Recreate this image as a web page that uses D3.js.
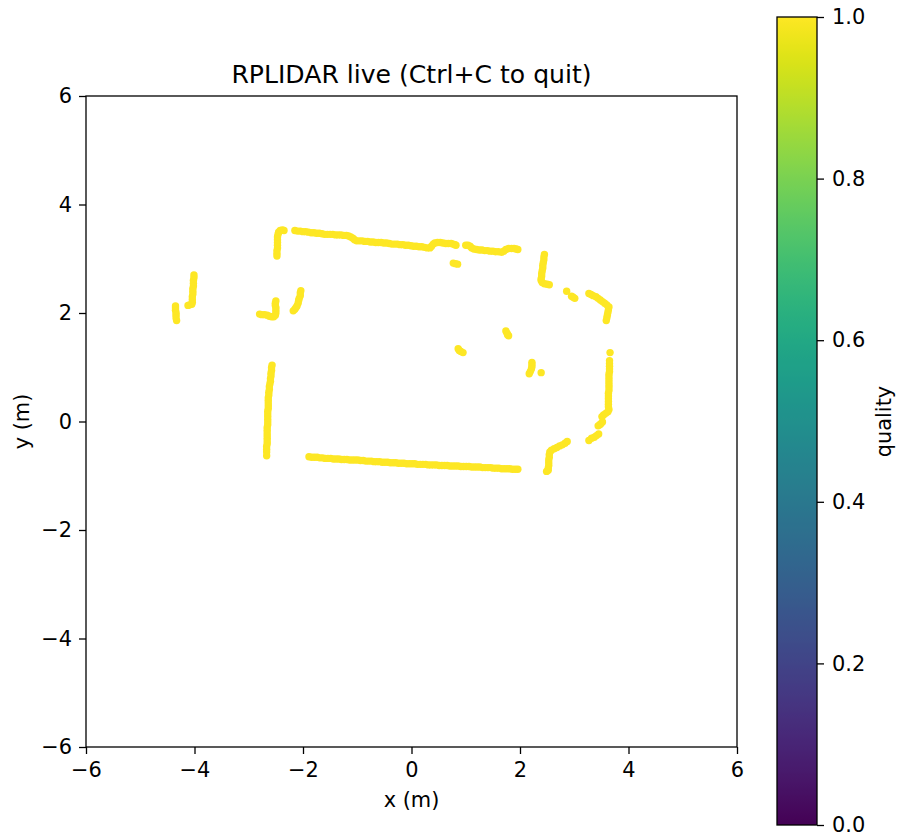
<!DOCTYPE html>
<html lang="en">
<head>
    <meta charset="UTF-8">
    <title>RPLIDAR live</title>
    <script src="https://d3js.org/d3.v7.min.js"></script>
    <style>
        body { margin: 0; background: #fff; }
        svg { display: block; }
        text { font-family: "DejaVu Sans", sans-serif; fill: #000; }
    </style>
</head>
<body>
    <div id="chart"></div>
    <script>
        // Tick labels
        const xTicks = [-6, -4, -2, 0, 2, 4, 6];
        const yTicks = [-6, -4, -2, 0, 2, 4, 6];
        const qualityTicks = [0, 0.2, 0.4, 0.6, 0.8, 1];

        // Lidar returns, [x, y] in metres, one list per wall piece
        const farLeftLow = [[-4.35, 2.13], [-4.35, 2.09], [-4.35, 2.05], [-4.34, 2.00], [-4.34, 1.96], [-4.34, 1.91], [-4.33, 1.86]];
        const farLeftHigh = [[-4.01, 2.70], [-4.01, 2.65], [-4.02, 2.60], [-4.02, 2.55], [-4.02, 2.50], [-4.03, 2.45], [-4.03, 2.40], [-4.03, 2.35], [-4.04, 2.30], [-4.04, 2.25], [-4.04, 2.20], [-4.05, 2.16], [-4.09, 2.15], [-4.12, 2.14]];
        const doorLeft = [[-2.80, 1.98], [-2.76, 1.97], [-2.71, 1.97], [-2.66, 1.96], [-2.62, 1.94], [-2.58, 1.93], [-2.54, 1.93], [-2.51, 1.96], [-2.50, 2.00], [-2.50, 2.05], [-2.50, 2.10], [-2.51, 2.14], [-2.51, 2.18], [-2.50, 2.22]];
        const doorRight = [[-2.18, 2.04], [-2.15, 2.07], [-2.13, 2.10], [-2.11, 2.13], [-2.09, 2.18], [-2.08, 2.23], [-2.07, 2.27], [-2.05, 2.32], [-2.05, 2.37], [-2.04, 2.41]];
        const cornerTopLeft = [[-2.48, 3.05], [-2.48, 3.10], [-2.48, 3.15], [-2.47, 3.20], [-2.47, 3.25], [-2.47, 3.30], [-2.47, 3.35], [-2.47, 3.40], [-2.46, 3.45], [-2.45, 3.49], [-2.42, 3.52], [-2.38, 3.53], [-2.35, 3.52]];
        const topWallA = [[-2.15, 3.52], [-2.10, 3.51], [-2.05, 3.51], [-2.00, 3.50], [-1.95, 3.50], [-1.90, 3.49], [-1.85, 3.48], [-1.80, 3.48], [-1.75, 3.47], [-1.70, 3.47], [-1.65, 3.46], [-1.60, 3.45], [-1.55, 3.45], [-1.50, 3.45], [-1.45, 3.45], [-1.40, 3.44], [-1.35, 3.44], [-1.30, 3.44], [-1.25, 3.43], [-1.20, 3.43], [-1.16, 3.42], [-1.12, 3.40], [-1.08, 3.38], [-1.05, 3.35], [-1.01, 3.33], [-0.96, 3.33], [-0.91, 3.33], [-0.86, 3.32], [-0.81, 3.32], [-0.76, 3.31], [-0.71, 3.31], [-0.66, 3.30], [-0.61, 3.30], [-0.56, 3.30], [-0.51, 3.29], [-0.46, 3.29], [-0.41, 3.28], [-0.36, 3.27], [-0.31, 3.27], [-0.26, 3.27], [-0.21, 3.26], [-0.16, 3.26], [-0.11, 3.25], [-0.06, 3.25], [-0.01, 3.24], [0.04, 3.23], [0.09, 3.23], [0.14, 3.22], [0.19, 3.22], [0.24, 3.21], [0.29, 3.20], [0.34, 3.20], [0.37, 3.23], [0.40, 3.27], [0.43, 3.29], [0.48, 3.30], [0.53, 3.30], [0.58, 3.29], [0.63, 3.28], [0.68, 3.28], [0.73, 3.28], [0.77, 3.27], [0.80, 3.26], [0.82, 3.25]];
        const topWallB = [[1.00, 3.25], [1.04, 3.25], [1.08, 3.23], [1.11, 3.20], [1.15, 3.18], [1.20, 3.17], [1.25, 3.16], [1.30, 3.16], [1.35, 3.15], [1.40, 3.15], [1.45, 3.14], [1.50, 3.14], [1.55, 3.13], [1.60, 3.13], [1.66, 3.12], [1.70, 3.14], [1.74, 3.17], [1.79, 3.19], [1.84, 3.19], [1.89, 3.19], [1.93, 3.18], [1.96, 3.17]];
        const topInner = [[0.77, 2.92], [0.81, 2.91], [0.85, 2.90]];
        const rightUpper = [[2.45, 3.08], [2.44, 3.03], [2.44, 2.98], [2.43, 2.93], [2.42, 2.88], [2.42, 2.83], [2.41, 2.78], [2.40, 2.73], [2.40, 2.68], [2.39, 2.63], [2.39, 2.60], [2.41, 2.56], [2.45, 2.54], [2.50, 2.53], [2.54, 2.52]];
        const rightDots = [[2.86, 2.40], [2.95, 2.31], [2.98, 2.29], [3.01, 2.27]];
        const cornerTopRight = [[3.27, 2.36], [3.31, 2.34], [3.35, 2.32], [3.40, 2.30], [3.44, 2.27], [3.48, 2.24], [3.52, 2.21], [3.56, 2.18], [3.60, 2.15], [3.64, 2.11], [3.63, 2.06], [3.62, 2.01], [3.61, 1.96], [3.60, 1.91], [3.59, 1.86]];
        const rightDot = [[3.66, 1.27]];
        const rightWall = [[3.65, 1.12], [3.65, 1.07], [3.65, 1.02], [3.65, 0.97], [3.65, 0.92], [3.64, 0.87], [3.64, 0.82], [3.64, 0.77], [3.64, 0.72], [3.64, 0.67], [3.64, 0.62], [3.64, 0.57], [3.63, 0.52], [3.63, 0.47], [3.63, 0.42], [3.63, 0.37], [3.63, 0.32], [3.63, 0.27], [3.64, 0.22], [3.62, 0.18], [3.58, 0.15], [3.54, 0.12], [3.51, 0.09]];
        const cornerLowA = [[3.52, -0.01], [3.49, -0.04], [3.47, -0.06], [3.44, -0.08]];
        const cornerLowB = [[3.45, -0.23], [3.41, -0.26], [3.37, -0.29], [3.32, -0.31], [3.27, -0.35]];
        const cornerLowC = [[2.87, -0.37], [2.83, -0.40], [2.78, -0.43], [2.73, -0.45], [2.68, -0.48], [2.63, -0.50], [2.58, -0.53], [2.55, -0.56], [2.54, -0.61], [2.54, -0.66], [2.53, -0.71], [2.53, -0.76], [2.53, -0.81], [2.52, -0.86], [2.52, -0.90], [2.49, -0.92]];
        const bottomWall = [[-1.89, -0.65], [-1.84, -0.66], [-1.79, -0.66], [-1.74, -0.66], [-1.69, -0.67], [-1.64, -0.67], [-1.59, -0.68], [-1.54, -0.68], [-1.49, -0.68], [-1.44, -0.69], [-1.39, -0.69], [-1.34, -0.69], [-1.29, -0.70], [-1.24, -0.70], [-1.19, -0.70], [-1.14, -0.71], [-1.09, -0.71], [-1.04, -0.71], [-0.99, -0.71], [-0.94, -0.72], [-0.89, -0.72], [-0.84, -0.73], [-0.79, -0.73], [-0.74, -0.73], [-0.69, -0.74], [-0.64, -0.74], [-0.59, -0.74], [-0.54, -0.75], [-0.49, -0.75], [-0.44, -0.75], [-0.39, -0.76], [-0.34, -0.76], [-0.29, -0.76], [-0.24, -0.77], [-0.19, -0.77], [-0.14, -0.77], [-0.09, -0.78], [-0.04, -0.78], [0.01, -0.78], [0.06, -0.78], [0.11, -0.79], [0.16, -0.79], [0.21, -0.79], [0.26, -0.79], [0.31, -0.80], [0.36, -0.80], [0.41, -0.80], [0.46, -0.80], [0.51, -0.81], [0.56, -0.81], [0.61, -0.81], [0.66, -0.81], [0.71, -0.82], [0.76, -0.82], [0.81, -0.82], [0.86, -0.82], [0.91, -0.83], [0.96, -0.83], [1.01, -0.83], [1.06, -0.83], [1.11, -0.84], [1.16, -0.84], [1.21, -0.84], [1.26, -0.84], [1.31, -0.85], [1.36, -0.85], [1.41, -0.85], [1.46, -0.85], [1.51, -0.86], [1.56, -0.86], [1.61, -0.86], [1.66, -0.87], [1.71, -0.87], [1.76, -0.87], [1.81, -0.87], [1.86, -0.88], [1.91, -0.88], [1.96, -0.88]];
        const leftWall = [[-2.57, 1.04], [-2.58, 0.99], [-2.58, 0.94], [-2.59, 0.89], [-2.59, 0.84], [-2.60, 0.79], [-2.60, 0.74], [-2.61, 0.69], [-2.62, 0.64], [-2.62, 0.59], [-2.63, 0.54], [-2.63, 0.49], [-2.64, 0.44], [-2.64, 0.39], [-2.64, 0.34], [-2.64, 0.29], [-2.64, 0.24], [-2.65, 0.19], [-2.65, 0.14], [-2.65, 0.09], [-2.65, 0.04], [-2.65, -0.01], [-2.65, -0.06], [-2.66, -0.11], [-2.66, -0.16], [-2.66, -0.21], [-2.66, -0.26], [-2.66, -0.31], [-2.66, -0.36], [-2.66, -0.41], [-2.67, -0.46], [-2.67, -0.51], [-2.67, -0.56], [-2.67, -0.63]];
        const innerA = [[0.86, 1.34], [0.88, 1.31], [0.91, 1.29], [0.95, 1.27]];
        const innerB = [[1.74, 1.67], [1.76, 1.63], [1.77, 1.60], [1.79, 1.58]];
        const innerC = [[2.22, 1.09], [2.22, 1.05], [2.22, 1.01], [2.21, 0.97], [2.19, 0.92], [2.17, 0.88]];
        const innerDot = [[2.39, 0.90]];

        const points = [].concat(
            farLeftLow, farLeftHigh, doorLeft, doorRight, cornerTopLeft, topWallA, topWallB,
            topInner, rightUpper, rightDots, cornerTopRight, rightDot, rightWall,
            cornerLowA, cornerLowB, cornerLowC, bottomWall, leftWall,
            innerA, innerB, innerC, innerDot
        );
        const quality = points.map(() => 1);

        const svg = d3.select('#chart')
            .append('svg')
            .attr('width', 897)
            .attr('height', 838);

        const xScale = d3.scaleLinear().domain([-6, 6]).range([86, 737]);
        const yScale = d3.scaleLinear().domain([-6, 6]).range([747, 96]);
        const colorScale = d3.scaleSequential(d3.interpolateViridis).domain([0, 1]);

        // Scatter
        svg.append('g')
            .selectAll('circle')
            .data(points)
            .enter()
            .append('circle')
            .attr('cx', d => xScale(d[0]))
            .attr('cy', d => yScale(d[1]))
            .attr('r', 3.7)
            .attr('fill', (d, i) => colorScale(quality[i]));

        // Axes, matplotlib look
        function styleAxis(g) {
            g.selectAll('.domain').remove();
            g.selectAll('line').attr('stroke', '#000').attr('stroke-width', 1.3);
            g.selectAll('text').attr('font-size', 20.9).attr('font-family', '"DejaVu Sans"');
        }

        svg.append('g')
            .attr('transform', 'translate(0,747)')
            .call(d3.axisBottom(xScale).tickValues(xTicks).tickSize(7).tickPadding(8).tickFormat(d3.format('d')))
            .call(styleAxis);

        svg.append('g')
            .attr('transform', 'translate(86,0)')
            .call(d3.axisLeft(yScale).tickValues(yTicks).tickSize(7).tickPadding(7).tickFormat(d3.format('d')))
            .call(styleAxis);

        svg.append('rect')
            .attr('x', 86).attr('y', 96)
            .attr('width', 651).attr('height', 651)
            .attr('fill', 'none').attr('stroke', '#000').attr('stroke-width', 1.3);

        svg.append('text')
            .attr('x', 411.5).attr('y', 83)
            .attr('text-anchor', 'middle')
            .attr('font-size', 25.1)
            .text('RPLIDAR live (Ctrl+C to quit)');

        svg.append('text')
            .attr('x', 411.5).attr('y', 807)
            .attr('text-anchor', 'middle')
            .attr('font-size', 20.9)
            .text('x (m)');

        svg.append('text')
            .attr('transform', 'translate(29,421.5) rotate(-90)')
            .attr('text-anchor', 'middle')
            .attr('font-size', 20.9)
            .text('y (m)');

        // Colorbar, gradient stops come from the same colour scale as the dots
        const barScale = d3.scaleLinear().domain([0, 1]).range([825, 17]);
        const barStops = d3.range(0, 256).map(i => i / 255);

        const gradient = svg.append('defs')
            .append('linearGradient')
            .attr('id', 'viridis-bar')
            .attr('x1', 0).attr('y1', 1)
            .attr('x2', 0).attr('y2', 0);

        gradient.selectAll('stop')
            .data(barStops)
            .enter()
            .append('stop')
            .attr('offset', d => d)
            .attr('stop-color', d => colorScale(d));

        svg.append('rect')
            .attr('x', 777).attr('y', barScale(1))
            .attr('width', 40).attr('height', barScale(0) - barScale(1))
            .attr('fill', 'url(#viridis-bar)');

        svg.append('g')
            .attr('transform', 'translate(817,0)')
            .call(d3.axisRight(barScale).tickValues(qualityTicks).tickSize(7).tickPadding(8).tickFormat(d3.format('.1f')))
            .call(styleAxis);

        svg.append('rect')
            .attr('x', 777).attr('y', 17)
            .attr('width', 40).attr('height', 808)
            .attr('fill', 'none').attr('stroke', '#000').attr('stroke-width', 1.3);

        svg.append('text')
            .attr('transform', 'translate(891,421.5) rotate(-90)')
            .attr('text-anchor', 'middle')
            .attr('font-size', 20.9)
            .text('quality');
    </script>
</body>
</html>
